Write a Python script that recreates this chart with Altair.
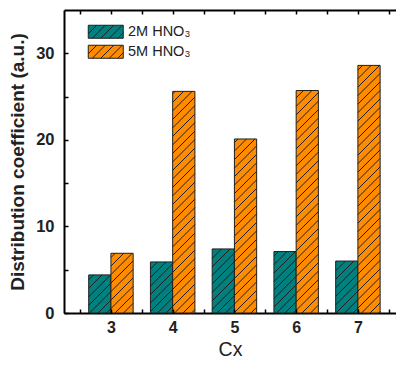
import altair as alt
import pandas as pd
import numpy as np

# ---- data ----
categories = [3, 4, 5, 6, 7]
series_names = ["2M HNO₃", "5M HNO₃"]
vals_2m = [4.4, 5.9, 7.4, 7.1, 6.0]
vals_5m = [6.9, 25.6, 20.1, 25.7, 28.6]
y_label_ticks = [0, 10, 20, 30]
y_minor_ticks = [0, 5, 10, 15, 20, 25, 30]
x_minor_ticks = [2.5, 3, 3.5, 4, 4.5, 5, 5.5, 6, 6.5, 7, 7.5]
colors = ["#00807F", "#FF8C00"]

# ---- layout / style ----
X_MIN, X_MAX = 2.24, 7.617
Y_MIN, Y_MAX = 0, 35
W, H = 332, 303
BAR_W = 0.36
HATCH = 8.5
FONT = "Arial"
INK = "#1f1f1f"

rows = []
for c, a, b in zip(categories, vals_2m, vals_5m):
    rows.append(dict(cat=c, series=series_names[0], x0=c - BAR_W, x1=c, val=a, base=0))
    rows.append(dict(cat=c, series=series_names[1], x0=c, x1=c + BAR_W, val=b, base=0))
bars_df = pd.DataFrame(rows)

# hatch segments derived from each bar rectangle (45 degree lines in pixel space)
sx = W / (X_MAX - X_MIN)
sy = H / (Y_MAX - Y_MIN)
hatch_rows = []
for r in rows:
    u0 = (r["x0"] - X_MIN) * sx
    u1 = (r["x1"] - X_MIN) * sx
    h = r["val"] * sy
    kmin = int(np.floor((u0 - h) / HATCH)) - 1
    kmax = int(np.ceil(u1 / HATCH)) + 1
    for k in range(kmin, kmax + 1):
        c0 = k * HATCH
        us = max(u0, c0)
        ue = min(u1, c0 + h)
        if ue - us > 0.4:
            hatch_rows.append(dict(hx0=X_MIN + us / sx, hy0=(us - c0) / sy,
                                   hx1=X_MIN + ue / sx, hy1=(ue - c0) / sy))
hatch_df = pd.DataFrame(hatch_rows)

# legend swatch: rectangle with hatch (path in pixel units, symbolSize=4 -> scale 1)
LW, LH = 35, 13
parts = [f"M{-LW/2},{-LH/2}H{LW/2}V{LH/2}H{-LW/2}Z"]
a = -LW / 2 - LH
while a < LW / 2:
    xs_ = max(-LW / 2, a)
    xe_ = min(LW / 2, a + LH)
    if xe_ - xs_ > 0.4:
        parts.append(f"M{xs_:.2f},{LH/2-(xs_-a):.2f}L{xe_:.2f},{LH/2-(xe_-a):.2f}")
    a += HATCH
swatch_path = "".join(parts)

xscale = alt.Scale(domain=[X_MIN, X_MAX], nice=False, zero=False)
yscale = alt.Scale(domain=[Y_MIN, Y_MAX], nice=False, zero=False)

bars = alt.Chart(bars_df).mark_rect(stroke=INK, strokeWidth=1).encode(
    x=alt.X("x0:Q", scale=xscale, axis=alt.Axis(
        values=categories, format="d", title="Cx", ticks=False, grid=False,
        domain=True, domainColor="black", domainWidth=2,
        labelFont=FONT, labelFontSize=16, labelFontWeight="bold", labelColor="#222",
        labelPadding=6.5, titleFont=FONT, titleFontSize=19.5, titleFontWeight="normal",
        titleColor="#222", titleBaseline="alphabetic", titleY=42.5)),
    x2="x1:Q",
    y=alt.Y("base:Q", scale=yscale, axis=alt.Axis(
        values=y_label_ticks, format="d", title="Distribution coefficient (a.u.)",
        ticks=False, grid=False, domain=True, domainColor="black", domainWidth=2,
        labelFont=FONT, labelFontSize=16.5, labelFontWeight="bold", labelColor="#222",
        labelPadding=10, titleFont=FONT, titleFontSize=19, titleFontWeight="bold",
        titleColor="#222", titlePadding=8)),
    y2="val:Q",
    color=alt.Color("series:N", scale=alt.Scale(domain=series_names, range=colors),
                    legend=alt.Legend(orient="none", legendX=34.5, legendY=14.5, title=None,
                                      symbolType=swatch_path, symbolSize=4,
                                      symbolStrokeColor=INK, symbolStrokeWidth=1,
                                      symbolOffset=0, labelOffset=15, padding=0,
                                      rowPadding=2, labelFont=FONT, labelFontSize=14.5,
                                      labelColor="#222")),
)

hatch = alt.Chart(hatch_df).mark_rule(color=INK, strokeWidth=1).encode(
    x=alt.X("hx0:Q", scale=xscale, axis=None),
    x2="hx1:Q",
    y=alt.Y("hy0:Q", scale=yscale, axis=None),
    y2="hy1:Q",
)

tick_style = dict(labels=False, title=None, grid=False, tickSize=4, tickWidth=1.5,
                  tickColor="black", zindex=1)

bottom_ticks = alt.Chart(bars_df).mark_point(opacity=0).encode(
    x=alt.X("x0:Q", scale=xscale, axis=alt.Axis(orient="top", offset=-H, domain=False,
                                                values=x_minor_ticks, **tick_style)),
    y=alt.Y("val:Q", scale=yscale, axis=None),
)
top_ticks = alt.Chart(bars_df).mark_point(opacity=0).encode(
    x=alt.X("x0:Q", scale=xscale, axis=alt.Axis(orient="bottom", offset=-H, domain=True,
                                                domainColor="black", domainWidth=2,
                                                values=x_minor_ticks, **tick_style)),
    y=alt.Y("val:Q", scale=yscale, axis=None),
)
left_ticks = alt.Chart(bars_df).mark_point(opacity=0).encode(
    x=alt.X("x0:Q", scale=xscale, axis=None),
    y=alt.Y("val:Q", scale=yscale, axis=alt.Axis(orient="right", offset=-W, domain=False,
                                                values=y_minor_ticks, **tick_style)),
)

chart = alt.layer(bars, hatch, bottom_ticks, top_ticks, left_ticks).resolve_axis(
    x="independent", y="independent"
).properties(
    width=W, height=H,
    padding={"left": 56, "top": 2, "right": 0, "bottom": 47},
    autosize=alt.AutoSizeParams(type="none"),
).configure_view(stroke=None).configure(background="white")

chart.save("out.html", embed_options={"renderer": "svg", "actions": False})
